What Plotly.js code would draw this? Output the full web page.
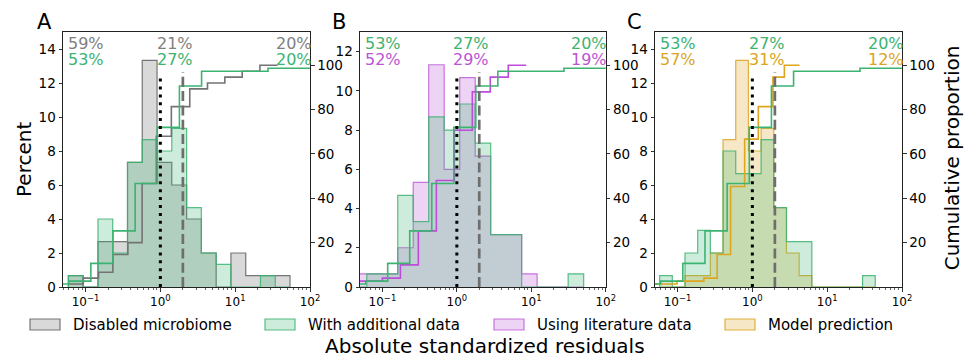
<!DOCTYPE html>
<html>
<head>
<meta charset="utf-8">
<script src="https://cdn.plot.ly/plotly-3.0.1.min.js"></script>
<style>html,body{margin:0;padding:0;background:#fff}</style>
</head>
<body>
<div id="chart" style="width:972px;height:360px"></div>
<script>
// ---------------- DATA ----------------
// Histogram bin edges (absolute standardized residual values)
const edgesA = [0.0590,0.0929,0.1466,0.2307,0.3639,0.5728,0.9036,1.422,2.244,3.532,5.572,8.770,13.84,21.78,34.36,54.08];
const edgesB = [0.0382,0.0617,0.0995,0.1607,0.2594,0.4188,0.6761,1.093,1.766,2.851,4.603,7.430,11.99,19.36,31.29,50.58];
const edgesC = [0.0577,0.0852,0.1259,0.1860,0.2748,0.4060,0.5998,0.8861,1.309,1.934,2.858,4.222,6.237,9.215,13.61,20.11,29.72,43.90];

// Histogram heights (percent)
const disabledPctA   = [0.67,0,2.67,2.67,7.33,13.33,7.33,6.0,4.0,2.0,0,2.0,0.67,0.67,0.67];
const additionalPctA = [0.67,0,4.0,2.0,7.33,8.67,8.0,9.33,4.67,2.0,1.33,0,0,0.67,0];
const literaturePctB = [0.67,0.67,0.67,2.0,5.33,11.33,6.0,10.67,6.67,2.67,2.67,0.67,0,0,0];
const additionalPctB = [0,0.67,0.67,4.67,3.33,8.67,8.0,9.33,7.33,2.67,2.67,0,0,0,0.67];
const modelPctC      = [0,0,0.67,0.67,2.0,8.67,13.33,8.0,9.33,4.67,2.0,0.67,0,0,0,0,0];
const additionalPctC = [0.67,0,2.0,3.33,2.0,8.0,6.67,6.67,8.67,4.67,2.67,2.67,0,0,0,0,0.67];

// Cumulative proportion step lines (x = residual, y = cumulative %)
const disabledCumX   = [0.0590,0.0933,0.1493,0.2317,0.3681,0.5702,0.8831,1.403,2.472,4.266,7.278,12.42,21.43,36.98];
const disabledCum    = [1.33,4.0,6.67,14.67,20.0,46.67,68.0,81.33,89.33,92.0,94.67,97.33,100,100];
const additionalCumX = [0.0301,0.0596,0.1178,0.2328,0.4603,0.9099,1.799,3.556,27.48,160];
const additionalCum  = [1.33,2.67,10.67,25.33,46.67,72.0,90.67,97.33,98.67,98.67];
const literatureCumX = [0.0329,0.1,0.1746,0.3041,0.5309,0.9247,1.614,2.812,4.909,8.551];
const literatureCum  = [2.67,4.0,10.0,25.33,48.0,70.67,88.0,94.67,100,100];
const modelCumX      = [0.0427,0.0984,0.2249,0.3388,0.5117,0.7889,1.202,1.884,2.679,4.266];
const modelCum       = [1.33,2.67,4.0,14.67,45.33,66.67,81.33,94.67,100,100];

// Share of residuals <1, 1-2, >2
const fracDisabled   = ['59%','21%','20%'];
const fracAdditional = ['53%','27%','20%'];
const fracLiterature = ['52%','29%','19%'];
const fracModel      = ['57%','31%','12%'];

// Reference thresholds
const thresholdDotted = 1;
const thresholdDashed = 2;

const panelLetters = ['A','B','C'];
const legendNames = ['Disabled microbiome','With additional data','Using literature data','Model prediction'];
const xTickVals = [0.1,1,10,100];
const xTickText = ['10<sup>\u22121</sup>','10<sup>0</sup>','10<sup>1</sup>','10<sup>2</sup>'];

// ---------------- STYLE ----------------
const COL = {
  gray:   {fill:'rgba(128,128,128,0.30)', edge:'rgba(105,105,105,0.9)', line:'rgb(115,115,115)', text:'#808080'},
  green:  {fill:'rgba(60,179,113,0.25)',  edge:'rgba(60,179,113,0.85)', line:'rgb(60,179,113)',  text:'#3cb371'},
  purple: {fill:'rgba(186,85,211,0.25)',  edge:'rgba(186,85,211,0.8)',  line:'rgb(190,75,220)',  text:'#ba55d3'},
  orange: {fill:'rgba(218,165,32,0.25)',  edge:'rgba(218,165,32,0.85)', line:'rgb(222,165,30)',  text:'#daa520'}
};

function histTrace(edges, vals, c, xa, ya) {
  const n = vals.length;
  const x = [edges[0]], y = [0];
  for (let i = 0; i < n; i++) { x.push(edges[i]); y.push(vals[i]); }
  x.push(edges[n]); y.push(0);
  return {type:'scatter', mode:'lines', x, y, xaxis:xa, yaxis:ya, fill:'toself',
    fillcolor:c.fill, line:{color:c.edge, width:1.2, shape:'hv'}, hoverinfo:'skip', showlegend:false};
}
function cumTrace(xs, ys, c, xa, ya) {
  return {type:'scatter', mode:'lines', x:xs, y:ys, xaxis:xa, yaxis:ya,
    line:{color:c.line, width:1.6, shape:'hv'}, hoverinfo:'skip', showlegend:false};
}
function vlines(xa, ya) {
  return [
    {type:'scatter', mode:'lines', x:[thresholdDotted,thresholdDotted], y:[0,96], xaxis:xa, yaxis:ya,
      line:{color:'#000', width:3, dash:'3px,4.9px'}, hoverinfo:'skip', showlegend:false},
    {type:'scatter', mode:'lines', x:[thresholdDashed,thresholdDashed], y:[0,97], xaxis:xa, yaxis:ya,
      line:{color:'#6e6e6e', width:2.7, dash:'10px,4.3px'}, hoverinfo:'skip', showlegend:false}
  ];
}

const traces = [
  histTrace(edgesA, disabledPctA, COL.gray, 'x', 'y'),
  histTrace(edgesA, additionalPctA, COL.green, 'x', 'y'),
  cumTrace(disabledCumX, disabledCum, COL.gray, 'x', 'y2'),
  cumTrace(additionalCumX, additionalCum, COL.green, 'x', 'y2'),
  ...vlines('x','y2'),

  histTrace(edgesB, literaturePctB, COL.purple, 'x2', 'y3'),
  histTrace(edgesB, additionalPctB, COL.green, 'x2', 'y3'),
  cumTrace(literatureCumX, literatureCum, COL.purple, 'x2', 'y4'),
  cumTrace(additionalCumX, additionalCum, COL.green, 'x2', 'y4'),
  ...vlines('x2','y4'),

  histTrace(edgesC, modelPctC, COL.orange, 'x3', 'y5'),
  histTrace(edgesC, additionalPctC, COL.green, 'x3', 'y5'),
  cumTrace(modelCumX, modelCum, COL.orange, 'x3', 'y6'),
  cumTrace(additionalCumX, additionalCum, COL.green, 'x3', 'y6'),
  ...vlines('x3','y6')
];

// ---------------- LAYOUT ----------------
const W = 972, H = 360;
const yDom = [1 - 287/H, 1 - 32/H];
const minorVals = [];
[0.01,0.1,1,10].forEach(d => { for (let m = 2; m <= 9; m++) minorVals.push(+(d*m).toPrecision(3)); });

function xAxis(x0, x1, anchor) {
  return {domain:[x0/W, x1/W], anchor, type:'log', range:[Math.log10(0.05), 2],
    tickmode:'array', tickvals:xTickVals, ticktext:xTickText,
    ticks:'outside', ticklen:3.5, tickwidth:0.8, tickcolor:'#000',
    showline:true, mirror:true, linecolor:'#222', linewidth:1,
    showgrid:false, zeroline:false, tickfont:{size:12, color:'#000'},
    minor:{tickmode:'array', tickvals:minorVals, ticks:'outside', ticklen:2, tickwidth:0.6, tickcolor:'#000', showgrid:false}};
}
function yLeft(anchor, top, tv) {
  return {domain:yDom, anchor, range:[0, top], tickmode:'array', tickvals:tv,
    ticks:'outside', ticklen:3.5, tickwidth:0.8, tickcolor:'#000',
    showline:true, linecolor:'#222', linewidth:1, showgrid:false, zeroline:false,
    tickfont:{size:13.5, color:'#000'}};
}
function yRight(over, anchor) {
  return {overlaying:over, side:'right', anchor, range:[0,115], tickmode:'array', tickvals:[20,40,60,80,100],
    ticks:'outside', ticklen:3.5, tickwidth:0.8, tickcolor:'#000',
    showline:true, linecolor:'#222', linewidth:1, showgrid:false, zeroline:false,
    tickfont:{size:13.5, color:'#000'}};
}

const annotations = [];
const panelX = [['x', 44.5], ['x2', 338.5], ['x3', 634.5]];
panelLetters.forEach((t, i) => annotations.push({text:t, xref:'paper', yref:'paper', x:panelX[i][1]/W, y:1-21.5/H,
  showarrow:false, xanchor:'center', yanchor:'middle', font:{size:21, color:'#000'}}));

// label anchors (log10 units on the log axes): near left edge, at x=1, at x=100 (right edge)
const labelXs = [Math.log10(0.05) + 3.5/74.5, -0.06, 2];
const labelShift = [0, 0, 2.5];
const labelAnchors = ['left','left','right'];
const rowsPerPanel = [
  [fracDisabled, COL.gray.text, fracAdditional, COL.green.text],
  [fracAdditional, COL.green.text, fracLiterature, COL.purple.text],
  [fracAdditional, COL.green.text, fracModel, COL.orange.text]
];
rowsPerPanel.forEach((r, p) => {
  for (let k = 0; k < 3; k++) {
    annotations.push({text:r[0][k], xref:panelX[p][0], yref:'paper', x:labelXs[k], xshift:labelShift[k], y:1-43.2/H,
      xanchor:labelAnchors[k], yanchor:'middle', showarrow:false, borderpad:0, font:{size:16, color:r[1]}});
    annotations.push({text:r[2][k], xref:panelX[p][0], yref:'paper', x:labelXs[k], xshift:labelShift[k], y:1-59.8/H,
      xanchor:labelAnchors[k], yanchor:'middle', showarrow:false, borderpad:0, font:{size:16, color:r[3]}});
  }
});

annotations.push({text:'Percent', xref:'paper', yref:'paper', x:24/W, y:1-160/H, textangle:-90,
  showarrow:false, xanchor:'center', yanchor:'middle', font:{size:20, color:'#000'}});
annotations.push({text:'Cumulative proportion', xref:'paper', yref:'paper', x:952/W, y:1-158.3/H, textangle:-90,
  showarrow:false, xanchor:'center', yanchor:'middle', font:{size:20, color:'#000'}});
annotations.push({text:'Absolute standardized residuals', xref:'paper', yref:'paper', x:485/W, y:1-346/H,
  showarrow:false, xanchor:'center', yanchor:'middle', borderpad:0, font:{size:20, color:'#000'}});

// Legend (patch handles)
const legendCols = [COL.gray, COL.green, COL.purple, COL.orange];
const legendBoxX = [30, 265, 494, 725];
const shapes = [];
legendNames.forEach((name, i) => {
  shapes.push({type:'rect', xref:'paper', yref:'paper', x0:legendBoxX[i]/W, x1:(legendBoxX[i]+30)/W,
    y0:1-330/H, y1:1-319/H, fillcolor:legendCols[i].fill, line:{color:legendCols[i].edge, width:1.2}});
  annotations.push({text:name, xref:'paper', yref:'paper', x:(legendBoxX[i]+41)/W, y:1-325/H,
    xanchor:'left', yanchor:'middle', showarrow:false, font:{size:15, color:'#000'}});
});

const layout = {
  width:W, height:H, margin:{l:0, r:0, t:0, b:0},
  paper_bgcolor:'#fff', plot_bgcolor:'rgba(0,0,0,0)',
  font:{family:'DejaVu Sans, sans-serif', color:'#000'},
  showlegend:false,
  xaxis:  xAxis(63, 310, 'y'),
  xaxis2: xAxis(360, 605.7, 'y3'),
  xaxis3: xAxis(655, 902, 'y5'),
  yaxis:  yLeft('x', 15, [0,2,4,6,8,10,12,14]),
  yaxis2: yRight('y', 'x'),
  yaxis3: yLeft('x2', 13, [0,2,4,6,8,10,12]),
  yaxis4: yRight('y3', 'x2'),
  yaxis5: yLeft('x3', 15, [0,2,4,6,8,10,12,14]),
  yaxis6: yRight('y5', 'x3'),
  annotations, shapes
};

Plotly.newPlot('chart', traces, layout, {displayModeBar:false, staticPlot:true});
</script>
</body>
</html>
